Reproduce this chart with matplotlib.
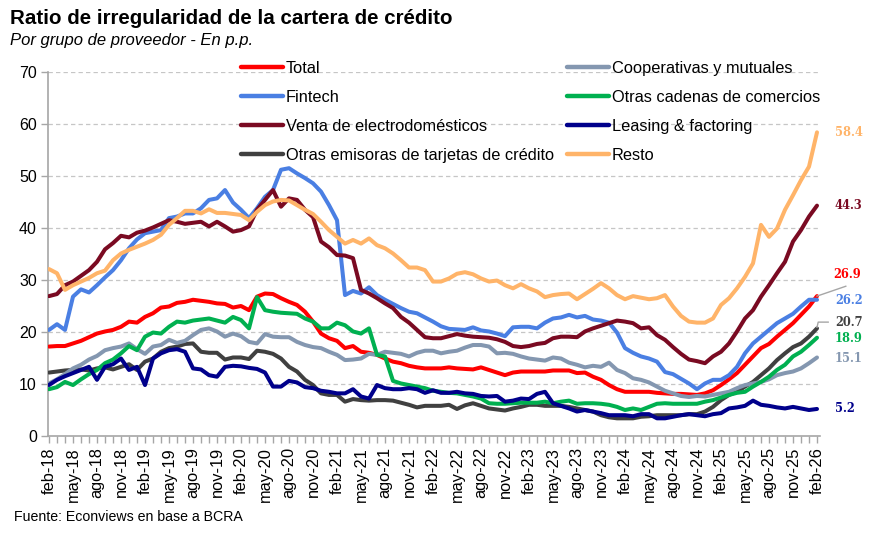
import matplotlib
matplotlib.use("Agg")
import matplotlib.pyplot as plt
import numpy as np

# ---------------- data ----------------
tick_labels = ['feb-18', 'may-18', 'ago-18', 'nov-18', 'feb-19', 'may-19', 'ago-19', 'nov-19',
               'feb-20', 'may-20', 'ago-20', 'nov-20', 'feb-21', 'may-21', 'ago-21', 'nov-21',
               'feb-22', 'may-22', 'ago-22', 'nov-22', 'feb-23', 'may-23', 'ago-23', 'nov-23',
               'feb-24', 'may-24', 'ago-24', 'nov-24', 'feb-25', 'may-25', 'ago-25', 'nov-25',
               'feb-26']

total = [17.2, 17.3, 17.3, 17.8, 18.3, 19.0, 19.7, 20.1, 20.4, 21.0, 22.0, 21.8, 22.9, 23.6, 24.7, 24.9,
         25.6, 25.8, 26.2, 26.0, 25.8, 25.5, 25.4, 24.7, 25.0, 24.2, 26.8, 27.4, 27.3, 26.5, 25.8, 25.2,
         23.9, 22.0, 19.7, 18.8, 18.3, 16.9, 17.3, 16.2, 16.0, 15.6, 14.9, 14.3, 14.0, 13.5, 13.2, 13.0,
         13.0, 13.0, 13.2, 13.0, 12.9, 12.8, 13.2, 12.7, 12.2, 11.7, 12.2, 12.4, 12.4, 12.4, 12.4, 12.6,
         12.6, 12.6, 12.1, 12.2, 11.4, 10.8, 9.8, 9.0, 8.5, 8.5, 8.5, 8.5, 8.3, 8.2, 8.1, 8.1,
         8.0, 7.9, 8.2, 8.8, 9.8, 10.9, 12.1, 13.7, 15.3, 16.9, 17.7, 19.1, 20.4, 21.7, 23.3, 24.9,
         26.9]

fintech = [20.4, 21.5, 20.4, 26.8, 28.2, 27.6, 29.0, 30.5, 31.9, 33.8, 36.1, 37.8, 39.0, 39.3, 39.6, 41.9,
           42.2, 42.8, 42.8, 43.8, 45.4, 45.7, 47.3, 44.9, 43.5, 41.9, 43.8, 46.0, 47.3, 51.2, 51.5, 50.5,
           49.6, 48.6, 47.0, 44.4, 41.5, 27.1, 27.9, 27.4, 28.6, 27.1, 26.2, 25.4, 24.6, 23.9, 23.6, 22.8,
           22.0, 21.1, 20.6, 20.5, 20.4, 20.9, 20.3, 20.1, 19.7, 19.2, 20.9, 21.0, 21.0, 20.7, 21.8, 22.6,
           22.8, 23.3, 22.8, 23.1, 22.4, 22.2, 21.8, 19.9, 16.9, 16.0, 15.3, 14.9, 14.3, 12.3, 11.9, 11.0,
           10.1, 9.0, 10.1, 10.8, 10.8, 11.7, 13.3, 15.9, 17.8, 19.1, 20.4, 21.7, 22.6, 23.5, 24.9, 26.2,
           26.2]

electro = [26.9, 27.3, 29.0, 29.7, 30.8, 31.9, 33.5, 35.9, 37.1, 38.5, 38.2, 39.1, 39.5, 40.1, 40.8, 41.5,
           41.2, 40.8, 41.0, 41.2, 40.3, 41.2, 40.3, 39.3, 39.6, 40.3, 43.5, 45.4, 47.3, 44.1, 45.7, 45.4,
           43.5, 42.1, 37.4, 36.3, 34.8, 34.7, 34.2, 28.1, 27.4, 26.5, 25.5, 24.6, 22.9, 21.8, 20.4, 19.0,
           18.8, 18.8, 19.2, 19.6, 19.3, 19.1, 19.0, 18.9, 18.6, 18.1, 17.3, 17.1, 17.3, 17.7, 17.9, 18.8,
           19.1, 19.1, 19.0, 20.1, 20.7, 21.2, 21.7, 22.2, 22.0, 21.7, 20.7, 20.9, 19.4, 18.5, 17.1, 15.8,
           14.7, 14.4, 14.0, 15.3, 16.2, 17.8, 20.1, 22.6, 24.2, 26.8, 29.0, 31.3, 33.5, 37.4, 39.6, 42.2,
           44.3]

emisoras = [12.2, 12.4, 12.6, 12.7, 12.8, 12.6, 13.0, 13.2, 12.8, 13.3, 13.8, 12.7, 14.3, 14.9, 16.2, 16.9,
            17.2, 17.7, 17.8, 16.2, 16.0, 16.0, 14.7, 15.1, 15.1, 14.8, 16.4, 16.2, 15.8, 14.9, 13.3, 12.4,
            10.8, 9.8, 8.2, 7.9, 7.9, 6.6, 7.1, 6.9, 6.8, 6.9, 6.9, 6.8, 6.4, 6.0, 5.5, 5.8,
            5.8, 5.8, 6.0, 5.2, 5.9, 6.3, 5.8, 5.3, 5.1, 4.9, 5.3, 5.6, 6.0, 6.0, 5.8, 5.8,
            5.8, 5.6, 5.3, 5.0, 4.7, 4.0, 3.6, 3.4, 3.4, 3.4, 3.7, 3.8, 4.0, 4.0, 4.0, 4.0,
            4.2, 4.2, 4.7, 5.6, 6.9, 7.9, 8.5, 9.5, 10.4, 11.7, 13.0, 14.6, 15.9, 17.1, 17.8, 19.1,
            20.7]

cooperativas = [10.1, 10.9, 11.9, 13.0, 13.7, 14.7, 15.4, 16.5, 16.9, 17.2, 17.8, 16.7, 15.8, 17.2, 17.5, 18.5,
                17.9, 18.3, 19.4, 20.4, 20.7, 20.1, 19.1, 19.7, 19.2, 18.1, 17.8, 19.6, 19.1, 19.0, 19.0, 18.1,
                17.5, 17.1, 16.9, 16.2, 15.6, 14.6, 14.7, 14.9, 15.8, 15.6, 16.2, 16.0, 15.8, 15.3, 16.0, 16.4,
                16.4, 15.9, 16.2, 16.4, 17.0, 17.5, 17.5, 17.2, 15.9, 16.0, 15.8, 15.3, 14.9, 14.7, 14.5, 15.1,
                14.9, 14.1, 13.7, 13.2, 13.5, 13.3, 14.1, 12.7, 12.1, 11.1, 10.8, 10.3, 9.5, 8.7, 8.2, 7.7,
                7.5, 7.7, 7.6, 7.9, 8.2, 8.5, 9.2, 9.8, 10.1, 10.4, 10.9, 11.7, 12.1, 12.4, 13.0, 14.0,
                15.1]

cadenas = [9.0, 9.4, 10.4, 9.8, 10.9, 11.9, 12.7, 14.0, 14.7, 15.9, 17.3, 16.5, 19.1, 19.9, 19.7, 21.0,
           22.0, 21.8, 22.2, 22.4, 22.6, 22.2, 21.8, 22.9, 22.3, 20.7, 26.7, 24.2, 23.9, 23.7, 23.6, 23.5,
           22.6, 22.0, 20.7, 20.7, 21.8, 21.3, 20.1, 19.7, 20.7, 15.6, 15.3, 10.6, 10.1, 9.8, 9.5, 9.2,
           8.7, 8.5, 8.3, 8.2, 7.9, 7.6, 7.2, 6.3, 6.2, 6.2, 6.3, 6.4, 6.4, 6.4, 6.6, 6.3,
           6.6, 6.8, 6.2, 6.3, 6.3, 6.2, 6.0, 5.6, 5.0, 5.3, 5.0, 5.6, 6.2, 6.3, 6.2, 6.2,
           6.2, 6.2, 6.6, 6.9, 7.4, 7.9, 8.3, 8.5, 9.5, 10.4, 11.4, 12.7, 13.7, 15.3, 16.2, 17.5,
           18.9]

leasing = [9.8, 10.8, 11.5, 12.1, 12.7, 13.3, 10.8, 13.3, 13.8, 14.9, 12.7, 13.3, 9.8, 14.9, 15.9, 16.5,
           16.7, 16.2, 13.0, 12.8, 11.7, 11.4, 13.3, 13.5, 13.4, 13.1, 12.9, 12.2, 9.5, 9.5, 10.6, 10.3,
           9.4, 9.2, 8.7, 8.5, 8.2, 8.2, 9.0, 7.6, 7.2, 9.8, 9.2, 9.0, 9.0, 9.2, 9.0, 8.3,
           8.8, 8.3, 8.3, 8.5, 8.2, 8.1, 7.7, 7.6, 7.7, 6.6, 6.8, 7.2, 7.1, 8.1, 8.5, 6.3,
           5.8, 5.3, 4.7, 5.0, 4.7, 4.4, 4.0, 4.0, 4.0, 3.8, 4.2, 4.2, 3.4, 3.4, 3.7, 4.0,
           4.2, 4.0, 3.8, 4.2, 4.4, 5.3, 5.5, 5.8, 6.8, 6.0, 5.8, 5.5, 5.3, 5.6, 5.3, 5.0,
           5.2]

resto = [32.1, 31.3, 28.1, 29.0, 29.7, 30.4, 31.3, 31.8, 33.8, 35.1, 35.8, 36.4, 37.0, 37.7, 38.7, 40.6,
         41.9, 43.3, 43.3, 42.8, 43.6, 42.9, 42.9, 42.7, 42.5, 41.5, 43.1, 44.4, 45.1, 45.4, 45.3, 44.4,
         43.5, 42.7, 41.2, 39.6, 38.3, 37.0, 37.7, 37.0, 38.0, 36.7, 36.1, 35.1, 33.8, 32.4, 32.4, 31.9,
         29.7, 29.7, 30.3, 31.2, 31.5, 31.1, 30.3, 29.7, 29.9, 29.0, 28.4, 29.2, 28.4, 27.8, 26.7, 27.1,
         27.3, 27.4, 26.3, 27.3, 28.3, 29.4, 28.4, 27.1, 26.3, 26.9, 26.6, 26.3, 26.5, 27.1, 24.9, 23.1,
         22.0, 21.8, 21.8, 22.6, 25.2, 26.5, 28.4, 30.6, 33.2, 40.6, 38.3, 39.9, 43.5, 46.3, 49.2, 51.8,
         58.4]

series_names = ['Total', 'Fintech', 'Venta de electrodomésticos',
                'Otras emisoras de tarjetas de crédito', 'Cooperativas y mutuales',
                'Otras cadenas de comercios', 'Leasing & factoring', 'Resto']
series_vals = [total, fintech, electro, emisoras, cooperativas, cadenas, leasing, resto]
series_cols = ['#FF0000', '#4A7FE3', '#7A0A22', '#404040', '#8497B0', '#00B050', '#00008B', '#FFB469']

# ---------------- figure ----------------
W, H = 887, 533
plt.rcParams['font.family'] = ['Liberation Sans', 'DejaVu Sans']
fig = plt.figure(figsize=(W / 100, H / 100), dpi=100)

L, R, T, B = 48, 820, 72, 436
ax = fig.add_axes([L / W, 1 - B / H, (R - L) / W, (B - T) / H])

n = len(total)
x = np.arange(n)

draw_order = [7, 2, 1, 4, 3, 5, 6, 0]
for k in draw_order:
    ax.plot(x, series_vals[k], color=series_cols[k], lw=2.9, solid_joinstyle='round',
            solid_capstyle='round', zorder=3 + k * 0.01)

ax.set_xlim(-0.125, 96.375)
ax.set_ylim(0, 70)

# grid
ax.set_yticks(range(0, 71, 10))
for v in range(10, 71, 10):
    ax.axhline(v, color='#C6C6C6', lw=0.9, ls=(0, (3.5, 2.5)), zorder=1)

for s in ['top', 'right']:
    ax.spines[s].set_visible(False)
for s in ['left', 'bottom']:
    ax.spines[s].set_color('#A6A6A6')
    ax.spines[s].set_linewidth(1.2)

ax.set_xticks(np.arange(0, n, 3))
ax.set_xticklabels(tick_labels, rotation=90, fontsize=11.8)
ax.set_xticks(np.arange(0, n, 1), minor=True)
ax.tick_params(axis='x', which='both', length=5, color='#A6A6A6', width=1, pad=3)
ax.tick_params(axis='y', length=5, color='#A6A6A6', width=1, labelsize=11.5, pad=3)
ax.set_yticklabels([str(v) for v in range(0, 71, 10)])

# legend
handles = [plt.Line2D([0], [0], color=c, lw=3.2, solid_capstyle='round') for c in series_cols]
leg = fig.legend(handles, series_names, loc='upper left', bbox_to_anchor=(241 / W, 1 - 61 / H),
                 ncol=2, frameon=False, fontsize=11.8, handlelength=2.55, handletextpad=0.18,
                 labelspacing=0.85, columnspacing=0.8, borderpad=0, borderaxespad=0)

# end labels
lab_vals = [26.9, 26.2, 44.3, 20.7, 15.1, 18.9, 5.2, 58.4]
lab_y = [31.0, 26.0, 44.4, 21.9, 15.0, 18.7, 5.2, 58.3]
lab_x = [98.0, 98.25, 98.25, 98.25, 98.25, 98.25, 98.25, 98.25]
for k in range(8):
    ax.text(lab_x[k], lab_y[k], f"{lab_vals[k]:.1f}", color=series_cols[k], fontsize=8.3,
            fontweight='bold', family='DejaVu Serif', ha='left', va='center', clip_on=False)

# leader lines
ax.plot([96, 99.6], [total[-1], 28.8], color='#A6A6A6', lw=1, clip_on=False, zorder=5)
ax.plot([96, 96.15, 97.4], [emisoras[-1] + 0.2, 21.9, 21.9], color='#A6A6A6', lw=1,
        clip_on=False, zorder=5)

# titles
fig.text(10 / W, 1 - 18 / H, 'Ratio de irregularidad de la cartera de crédito', fontsize=14.8,
         fontweight='bold', ha='left', va='center')
fig.text(10 / W, 1 - 40 / H, 'Por grupo de proveedor - En p.p.', fontsize=12, style='italic',
         ha='left', va='center')
fig.text(14 / W, 1 - 517 / H, 'Fuente: Econviews en base a BCRA', fontsize=10.2,
         ha='left', va='center')

fig.savefig('out.png', dpi=100)
